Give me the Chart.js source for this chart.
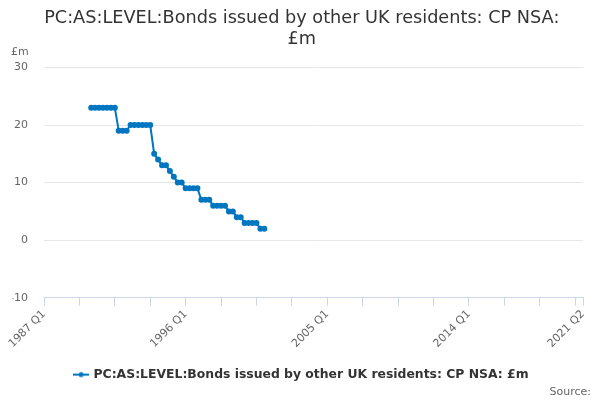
<!DOCTYPE html>
<html>
<head>
<meta charset="utf-8">
<script src="https://cdn.jsdelivr.net/npm/chart.js@4.4.0/dist/chart.umd.min.js"></script>
<style>
  body { margin: 0; background: #fff; }
  #wrap { width: 600px; height: 400px; position: relative; }
</style>
</head>
<body>
<div id="wrap"><canvas id="bondsChart"></canvas></div>
<script>
// Quarter labels, 1987 Q1 .. 2021 Q2
const firstYear = 1987;
const lastLabel = '2021 Q2';
const quarters = [];
for (let y = firstYear; y <= 2021; y++) {
  for (let q = 1; q <= 4; q++) {
    quarters.push(y + ' Q' + q);
    if (quarters[quarters.length - 1] === lastLabel) break;
  }
}

// Series values (£m), 1990 Q1 .. 2001 Q1
const seriesStart = '1990 Q1';
const bondValues = [
  23, 23, 23, 23, 23, 23, 23,
  19, 19, 19,
  20, 20, 20, 20, 20, 20,
  15, 14, 13, 13, 12, 11, 10, 10,
  9, 9, 9, 9,
  7, 7, 7,
  6, 6, 6, 6,
  5, 5, 4, 4,
  3, 3, 3, 3,
  2, 2
];

const yTicks = [-10, 0, 10, 20, 30];
const seriesName = 'PC:AS:LEVEL:Bonds issued by other UK residents: CP NSA: £m';

const startIdx = quarters.indexOf(seriesStart);
const seriesData = quarters.map((q, i) =>
  (i >= startIdx && i < startIdx + bondValues.length) ? bondValues[i - startIdx] : null);

const lineColor = '#0076c0';
const fontFamily = '"DejaVu Sans", "Lucida Grande", sans-serif';

// legend symbol: short line with a dot
const legendIcon = document.createElement('canvas');
legendIcon.width = 16;
legendIcon.height = 8;
(function () {
  const c = legendIcon.getContext('2d');
  c.strokeStyle = lineColor;
  c.lineWidth = 2;
  c.beginPath();
  c.moveTo(0, 4);
  c.lineTo(16, 4);
  c.stroke();
  c.fillStyle = lineColor;
  c.beginPath();
  c.arc(8, 4, 2.5, 0, Math.PI * 2);
  c.fill();
})();

// unit label above the y axis
const unitLabel = {
  id: 'unitLabel',
  afterDraw(chart) {
    const ctx = chart.ctx;
    ctx.save();
    ctx.font = '11px ' + fontFamily;
    ctx.fillStyle = '#666666';
    ctx.textAlign = 'left';
    ctx.textBaseline = 'middle';
    ctx.fillText('£m', 11, chart.chartArea.top - 15);
    ctx.restore();
  }
};

const ctx = document.getElementById('bondsChart').getContext('2d');
const bondsChart = new Chart(ctx, {
  type: 'line',
  data: {
    labels: quarters,
    datasets: [{
      label: seriesName,
      data: seriesData,
      borderColor: lineColor,
      backgroundColor: lineColor,
      borderWidth: 2,
      pointRadius: 2,
      pointHoverRadius: 3,
      pointStyle: 'circle',
      tension: 0,
      spanGaps: false
    }]
  },
  options: {
    responsive: true,
    maintainAspectRatio: false,
    animation: false,
    layout: { padding: { left: 12.5, right: 9, top: 8, bottom: 1 } },
    plugins: {
      title: {
        display: true,
        text: ['PC:AS:LEVEL:Bonds issued by other UK residents: CP NSA:', '£m'],
        color: '#333333',
        font: { family: fontFamily, size: 17.7, weight: 'normal', lineHeight: 1.2 },
        padding: { top: 0, bottom: 17 }
      },
      legend: {
        position: 'bottom',
        labels: {
          color: '#333333',
          font: { family: fontFamily, size: 12.4, weight: 'bold' },
          usePointStyle: true,
          padding: 3,
          generateLabels(chart) {
            return [{
              text: seriesName,
              pointStyle: legendIcon,
              fontColor: '#333333',
              datasetIndex: 0,
              hidden: false
            }];
          }
        }
      },
      subtitle: {
        display: true,
        position: 'bottom',
        align: 'end',
        text: 'Source:',
        color: '#666666',
        font: { family: fontFamily, size: 11 },
        padding: { top: -5, bottom: 0 }
      },
      tooltip: { enabled: false }
    },
    scales: {
      x: {
        offset: false,
        grid: {
          drawOnChartArea: false,
          drawTicks: true,
          tickLength: 8,
          color: '#ccd6eb'
        },
        border: { display: true, color: '#ccd6eb' },
        ticks: {
          autoSkip: false,
          maxRotation: 45,
          minRotation: 45,
          color: '#666666',
          font: { family: fontFamily, size: 11 },
          padding: 2,
          callback(value, index) {
            const last = quarters.length - 1;
            if (index % 36 === 0 || index === last) return quarters[index];
            if (index % 9 === 0) return '';
            return null;
          }
        },
        afterFit(scale) {
          // first rotated label hangs over the y-axis area; plot ends 17px from the right
          scale.paddingLeft = 0;
          scale.paddingRight = 17;
          scale.height += 13;
        }
      },
      y: {
        min: yTicks[0],
        max: yTicks[yTicks.length - 1],
        afterBuildTicks(axis) {
          axis.ticks = yTicks.map(v => ({ value: v }));
        },
        afterFit(axis) {
          axis.width = 31.5;
        },
        grid: { color: '#e6e6e6', drawTicks: false },
        border: { display: false },
        ticks: {
          color: '#666666',
          font: { family: fontFamily, size: 11 },
          padding: 16
        }
      }
    }
  },
  plugins: [unitLabel]
});
</script>
</body>
</html>
